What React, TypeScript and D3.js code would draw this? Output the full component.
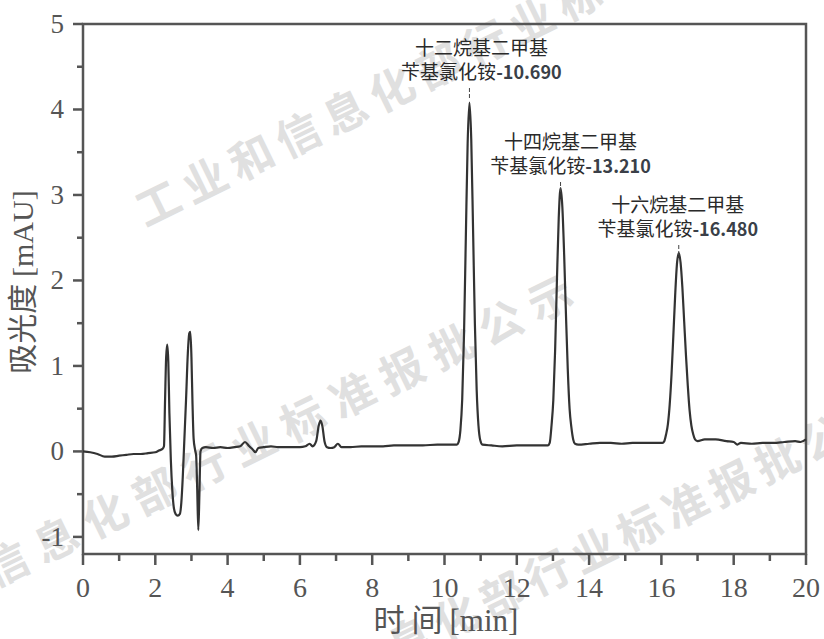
import React from "react";
import * as d3 from "d3";

// retention time [min]
const times: number[] = [
  0.0, 0.2, 0.4, 0.6, 0.8, 1.0, 1.2, 1.4, 1.6, 1.8, 2.0, 2.1, 2.2, 2.24, 2.27, 2.3, 2.33, 2.36, 2.39, 2.43, 2.47, 2.51,
  2.56, 2.62, 2.68, 2.72, 2.76, 2.8, 2.85, 2.9, 2.94, 2.97, 3.0, 3.03, 3.06, 3.1, 3.13, 3.16, 3.19, 3.22, 3.25, 3.3,
  3.4, 3.6, 3.8, 4.0, 4.2, 4.35, 4.48, 4.6, 4.7, 4.77, 4.85, 5.0, 5.2, 5.4, 5.6, 5.8, 6.0, 6.15, 6.27, 6.35, 6.45,
  6.52, 6.57, 6.62, 6.68, 6.75, 6.85, 6.95, 7.05, 7.15, 7.4, 7.7, 8.0, 8.3, 8.6, 9.0, 9.4, 9.8, 10.2, 10.34, 10.39,
  10.44, 10.49, 10.54, 10.59, 10.64, 10.69, 10.74, 10.79, 10.84, 10.89, 10.94, 10.99, 11.05, 11.3, 11.6, 12.0, 12.4,
  12.7, 12.86, 12.91, 12.96, 13.01, 13.06, 13.11, 13.16, 13.21, 13.26, 13.31, 13.36, 13.41, 13.46, 13.51, 13.56,
  13.61, 13.7, 14.0, 14.3, 14.6, 14.9, 15.2, 15.5, 15.8, 16.03, 16.08, 16.13, 16.18, 16.23, 16.28, 16.33, 16.38,
  16.43, 16.48, 16.53, 16.58, 16.63, 16.68, 16.73, 16.78, 16.83, 16.88, 16.93, 17.0, 17.2, 17.5, 17.8, 18.0, 18.1,
  18.2, 18.5, 18.8, 19.1, 19.4, 19.7, 19.85, 20.0,
];

// absorbance [mAU]
const absorbance: number[] = [
  0.0, -0.01, -0.03, -0.06, -0.06, -0.05, -0.04, -0.03, -0.03, -0.02, -0.01, 0.01, 0.03, 0.06, 0.6, 1.1, 1.25, 1.05,
  0.45, -0.1, -0.45, -0.65, -0.73, -0.75, -0.73, -0.6, -0.3, 0.1, 0.6, 1.15, 1.38, 1.4, 1.1, 0.55, 0.15, 0.02, -0.05,
  -0.45, -0.92, -0.5, 0.0, 0.04, 0.05, 0.04, 0.05, 0.04, 0.05, 0.06, 0.11, 0.06, 0.02, -0.01, 0.04, 0.05, 0.06, 0.05,
  0.05, 0.05, 0.05, 0.06, 0.09, 0.06, 0.12, 0.3, 0.36, 0.3, 0.12, 0.05, 0.04, 0.05, 0.09, 0.05, 0.05, 0.06, 0.06, 0.06,
  0.07, 0.07, 0.07, 0.08, 0.08, 0.08, 0.11, 0.25, 0.61, 1.37, 2.5, 3.6, 4.08, 3.65, 2.6, 1.5, 0.72, 0.3, 0.13, 0.08,
  0.07, 0.06, 0.07, 0.07, 0.07, 0.07, 0.1, 0.3, 0.6, 1.18, 2.0, 2.73, 3.08, 2.86, 2.3, 1.6, 0.96, 0.5, 0.28, 0.14, 0.09,
  0.08, 0.09, 0.1, 0.1, 0.09, 0.1, 0.1, 0.1, 0.1, 0.12, 0.2, 0.32, 0.55, 0.9, 1.35, 1.82, 2.19, 2.32, 2.21, 1.92, 1.52,
  1.12, 0.77, 0.48, 0.3, 0.2, 0.14, 0.12, 0.14, 0.14, 0.12, 0.11, 0.08, 0.1, 0.09, 0.1, 0.1, 0.11, 0.12, 0.11, 0.14,
];

const peakNames: string[] = ["十二烷基二甲基", "十四烷基二甲基", "十六烷基二甲基"];
const peakSuffix: string[] = ["苄基氯化铵", "苄基氯化铵", "苄基氯化铵"];
const peakTimes: number[] = [10.69, 13.21, 16.48];
const peakLabels: string[] = ["-10.690", "-13.210", "-16.480"];

const xMajor: number[] = [0, 2, 4, 6, 8, 10, 12, 14, 16, 18, 20];
const xMinor: number[] = [1, 3, 5, 7, 9, 11, 13, 15, 17, 19];
const yMajor: number[] = [-1, 0, 1, 2, 3, 4, 5];
const yMinor: number[] = [-0.5, 0.5, 1.5, 2.5, 3.5, 4.5];

const watermark = "工业和信息化部行业标准报批公示";

const W = 824;
const H = 639;
const L = 83;
const R = 806;
const T = 24;
const B = 554;

export default function App() {
  const x = d3.scaleLinear().domain([0, 20]).range([L, R]);
  const y = d3.scaleLinear().domain([-1.2, 5]).range([B, T]);
  const pts: [number, number][] = times.map((t, i) => [t, absorbance[i]]);
  const line = d3
    .line<[number, number]>()
    .x((d) => x(d[0]))
    .y((d) => y(d[1]))
    .curve(d3.curveMonotoneX);

  const axisColor = "#555";
  const serif = "'Liberation Serif', 'DejaVu Serif', serif";
  const cjk = "'Noto Sans CJK SC', 'Noto Sans', sans-serif";

  const labelDx = [12, 10, -1];
  const labelTopY = [49, 143, 206];

  const wm = [
    { x: 160, y: 207, ls: 8 },
    { x: -140, y: 640, ls: 11 },
    { x: 229, y: 733, ls: 7 },
  ];

  return (
    <svg
      width={W}
      height={H}
      style={{ position: "absolute", left: 0, top: 0, background: "#fff" }}
    >
      <rect x={0} y={0} width={W} height={H} fill="#fff" />
      {/* watermark */}
      <g fill="#e0e0e0" fontFamily={cjk} fontSize={44} fontWeight={700}>
        {wm.map((w, i) => (
          <text
            key={i}
            x={w.x}
            y={w.y}
            letterSpacing={w.ls}
            dominantBaseline="middle"
            transform={`rotate(-26 ${w.x} ${w.y})`}
            textAnchor="start"
            dx={-22}
          >
            {watermark}
          </text>
        ))}
      </g>

      {/* frame */}
      <rect x={L} y={T} width={R - L} height={B - T} fill="none" stroke={axisColor} strokeWidth={2.5} />

      {/* y ticks */}
      {yMajor.map((v) => (
        <g key={"ym" + v}>
          <line x1={L - 10} x2={L} y1={y(v)} y2={y(v)} stroke={axisColor} strokeWidth={2.5} />
          <text x={L - 19} y={y(v) + 9} textAnchor="end" fontFamily={serif} fontSize={27} fill="#555">
            {v < 0 ? "-" + Math.abs(v) : String(v)}
          </text>
        </g>
      ))}
      {yMinor.map((v) => (
        <line key={"yn" + v} x1={L - 6} x2={L} y1={y(v)} y2={y(v)} stroke={axisColor} strokeWidth={2.5} />
      ))}

      {/* x ticks */}
      {xMajor.map((v) => (
        <g key={"xm" + v}>
          <line x1={x(v)} x2={x(v)} y1={B} y2={B + 11} stroke={axisColor} strokeWidth={2.5} />
          <text x={x(v)} y={B + 43} textAnchor="middle" fontFamily={serif} fontSize={28} fill="#555">
            {String(v)}
          </text>
        </g>
      ))}
      {xMinor.map((v) => (
        <line key={"xn" + v} x1={x(v)} x2={x(v)} y1={B} y2={B + 7} stroke={axisColor} strokeWidth={2.5} />
      ))}

      {/* axis titles */}
      <text x={446} y={631} textAnchor="middle" fontSize={31} fill="#555">
        <tspan fontFamily={cjk}>时 间 </tspan>
        <tspan fontFamily={serif}>[min]</tspan>
      </text>
      <text
        transform={`translate(33, 282) rotate(-90)`}
        textAnchor="middle"
        fontSize={30}
        fill="#555"
      >
        <tspan fontFamily={cjk}>吸光度 </tspan>
        <tspan fontFamily={serif}>[mAU]</tspan>
      </text>

      {/* chromatogram */}
      <path d={line(pts) || ""} fill="none" stroke="#333" strokeWidth={2.2} strokeLinejoin="round" />

      {/* peak annotations */}
      {peakTimes.map((t, i) => {
        const px = x(t);
        const cx = px + labelDx[i];
        const ty = labelTopY[i];
        return (
          <g key={"pk" + i}>
            <text x={cx} y={ty + 6} textAnchor="middle" fontFamily={cjk} fontSize={19} fill="#2a2a2a">
              {peakNames[i]}
            </text>
            <text x={cx} y={ty + 30} textAnchor="middle" fontFamily={cjk} fontSize={19} fill="#2a2a2a">
              {peakSuffix[i]}
              <tspan fill="#3a3f48" fontWeight={700} fontSize={18}>
                {peakLabels[i]}
              </tspan>
            </text>
            <line
              x1={px}
              x2={px}
              y1={ty + 39}
              y2={ty + 50}
              stroke="#444"
              strokeWidth={1}
              strokeDasharray="4,2"
            />
          </g>
        );
      })}
    </svg>
  );
}
